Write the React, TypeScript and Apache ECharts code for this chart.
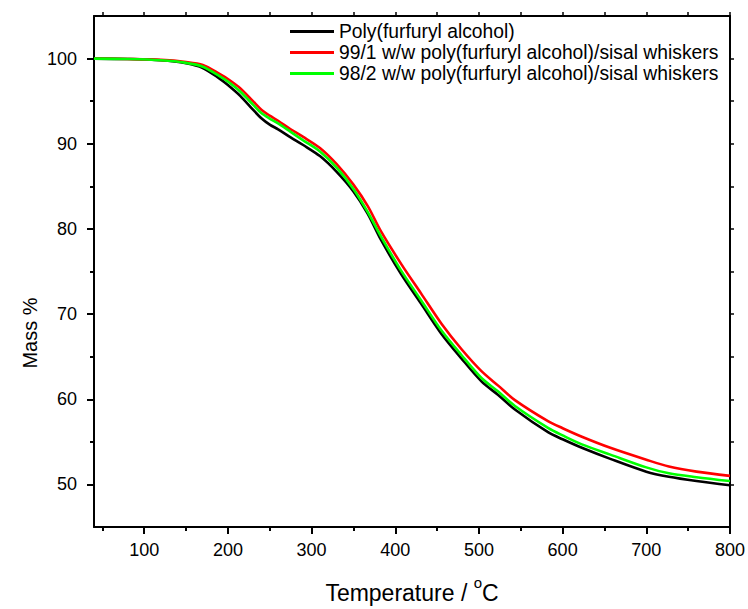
import React, { useEffect, useRef } from "react";
import * as echarts from "echarts";

const temps = [40, 80, 120, 150, 170, 190, 200, 215, 230, 240, 250, 260, 275, 290, 310, 330, 350, 367, 383, 407, 431, 455, 479, 503, 523, 543, 583, 600, 623, 657, 700, 727, 760, 800];
const pfa = [100.0, 99.95, 99.8, 99.45, 98.9, 97.65, 96.9, 95.6, 94.0, 93.0, 92.25, 91.7, 90.75, 89.85, 88.55, 86.7, 84.4, 81.8, 78.7, 74.7, 71.2, 67.7, 64.8, 62.1, 60.5, 58.8, 56.1, 55.3, 54.3, 53.0, 51.5, 50.9, 50.4, 49.9];
const pfa99 = [100.0, 99.95, 99.85, 99.6, 99.25, 98.2, 97.6, 96.5, 95.0, 94.0, 93.3, 92.7, 91.7, 90.8, 89.5, 87.6, 85.2, 82.7, 79.7, 75.9, 72.4, 68.9, 65.9, 63.3, 61.6, 59.9, 57.4, 56.6, 55.6, 54.3, 52.9, 52.1, 51.5, 51.0];
const pfa98 = [100.0, 99.95, 99.8, 99.5, 99.05, 97.95, 97.3, 96.1, 94.6, 93.6, 92.95, 92.4, 91.4, 90.4, 89.1, 87.2, 84.7, 82.0, 79.1, 75.1, 71.6, 68.1, 65.2, 62.5, 60.9, 59.2, 56.6, 55.75, 54.7, 53.5, 52.0, 51.3, 50.85, 50.4];

const seriesNames = [
  "Poly(furfuryl alcohol)",
  "99/1 w/w poly(furfuryl alcohol)/sisal whiskers",
  "98/2 w/w poly(furfuryl alcohol)/sisal whiskers",
];
const seriesColors = ["#000000", "#ff0000", "#00ff00"];

const xMajor = [100, 200, 300, 400, 500, 600, 700, 800];
const xMinor = [50, 150, 250, 350, 450, 550, 650, 750];
const yMajor = [50, 60, 70, 80, 90, 100];
const yMinor = [55, 65, 75, 85, 95];

const FONT = "'Liberation Sans', Arial, sans-serif";

export default function App() {
  const ref = useRef<HTMLDivElement>(null);
  useEffect(() => {
    if (!ref.current) return;
    const chart = echarts.init(ref.current, null, { renderer: "svg" });
    const values = [pfa, pfa99, pfa98];
    const axisLine = { show: true, lineStyle: { color: "#000", width: 2 } };
    const grid = { left: 94, top: 16, right: 17, bottom: 77 };
    chart.setOption({
      animation: false,
      backgroundColor: "#fff",
      textStyle: { fontFamily: FONT },
      grid,
      legend: {
        orient: "vertical",
        left: 285,
        top: 17,
        itemWidth: 44,
        itemHeight: 3,
        itemGap: 2,
        icon: "rect",
        data: seriesNames,
        textStyle: { fontSize: 19.3, color: "#000", fontFamily: FONT, lineHeight: 19 },
      },
      graphic: [
        {
          type: "text",
          x: 30,
          y: 333,
          rotation: Math.PI / 2,
          style: { text: "Mass %", fontSize: 20, fontFamily: FONT, fill: "#000", textAlign: "center", textVerticalAlign: "middle" },
        },
      ],
      xAxis: [
        {
          type: "value", min: 40, max: 800, position: "bottom",
          name: "{t|Temperature / }{sup|o}{t|C}",
          nameLocation: "middle", nameGap: 54,
          nameTextStyle: {
            fontSize: 23, color: "#000", fontFamily: FONT,
            rich: {
              t: { fontSize: 23, lineHeight: 23, fontFamily: FONT, color: "#000", verticalAlign: "bottom" },
              sup: { fontSize: 15, lineHeight: 15, fontFamily: FONT, color: "#000", verticalAlign: "bottom", padding: [0, 0, 14, 0] },
            },
          },
          axisLine,
          axisTick: { show: true, inside: false, length: 7, lineStyle: { color: "#000", width: 2 }, customValues: xMajor },
          axisLabel: { show: true, fontSize: 18, color: "#000", margin: 14, fontFamily: FONT, customValues: xMajor },
          splitLine: { show: false },
        },
        {
          type: "value", min: 40, max: 800, position: "bottom",
          axisLine: { show: false },
          axisTick: { show: true, inside: false, length: 4, lineStyle: { color: "#000", width: 2 }, customValues: xMinor },
          axisLabel: { show: false },
          splitLine: { show: false },
        },
        {
          type: "value", min: 40, max: 800, position: "top",
          axisLine,
          axisTick: { show: true, inside: false, length: 4, lineStyle: { color: "#000", width: 1.5 }, customValues: xMajor.concat(xMinor) },
          axisLabel: { show: false },
          splitLine: { show: false },
        },
      ],
      yAxis: [
        {
          type: "value", min: 45, max: 105, position: "left",
          axisLine,
          axisTick: { show: true, inside: false, length: 7, lineStyle: { color: "#000", width: 2 }, customValues: yMajor },
          axisLabel: { show: true, fontSize: 18, color: "#000", margin: 17, fontFamily: FONT, customValues: yMajor },
          splitLine: { show: false },
        },
        {
          type: "value", min: 45, max: 105, position: "left",
          axisLine: { show: false },
          axisTick: { show: true, inside: false, length: 4, lineStyle: { color: "#000", width: 2 }, customValues: yMinor },
          axisLabel: { show: false },
          splitLine: { show: false },
        },
        {
          type: "value", min: 45, max: 105, position: "right",
          axisLine,
          axisTick: { show: true, inside: false, length: 4, lineStyle: { color: "#000", width: 1.5 }, customValues: yMajor.concat(yMinor) },
          axisLabel: { show: false },
          splitLine: { show: false },
        },
      ],
      series: seriesNames.map((name, i) => ({
        name,
        type: "line",
        xAxisIndex: 0,
        yAxisIndex: 0,
        data: temps.map((t, j) => [t, values[i][j]]),
        symbol: "none",
        smooth: 0.3,
        color: seriesColors[i],
        itemStyle: { color: seriesColors[i] },
        lineStyle: { color: seriesColors[i], width: 2.6 },
        z: 2 + i,
      })),
    });
    return () => chart.dispose();
  }, []);
  return <div ref={ref} style={{ position: "fixed", left: 0, top: 0, width: 748, height: 609 }} />;
}
